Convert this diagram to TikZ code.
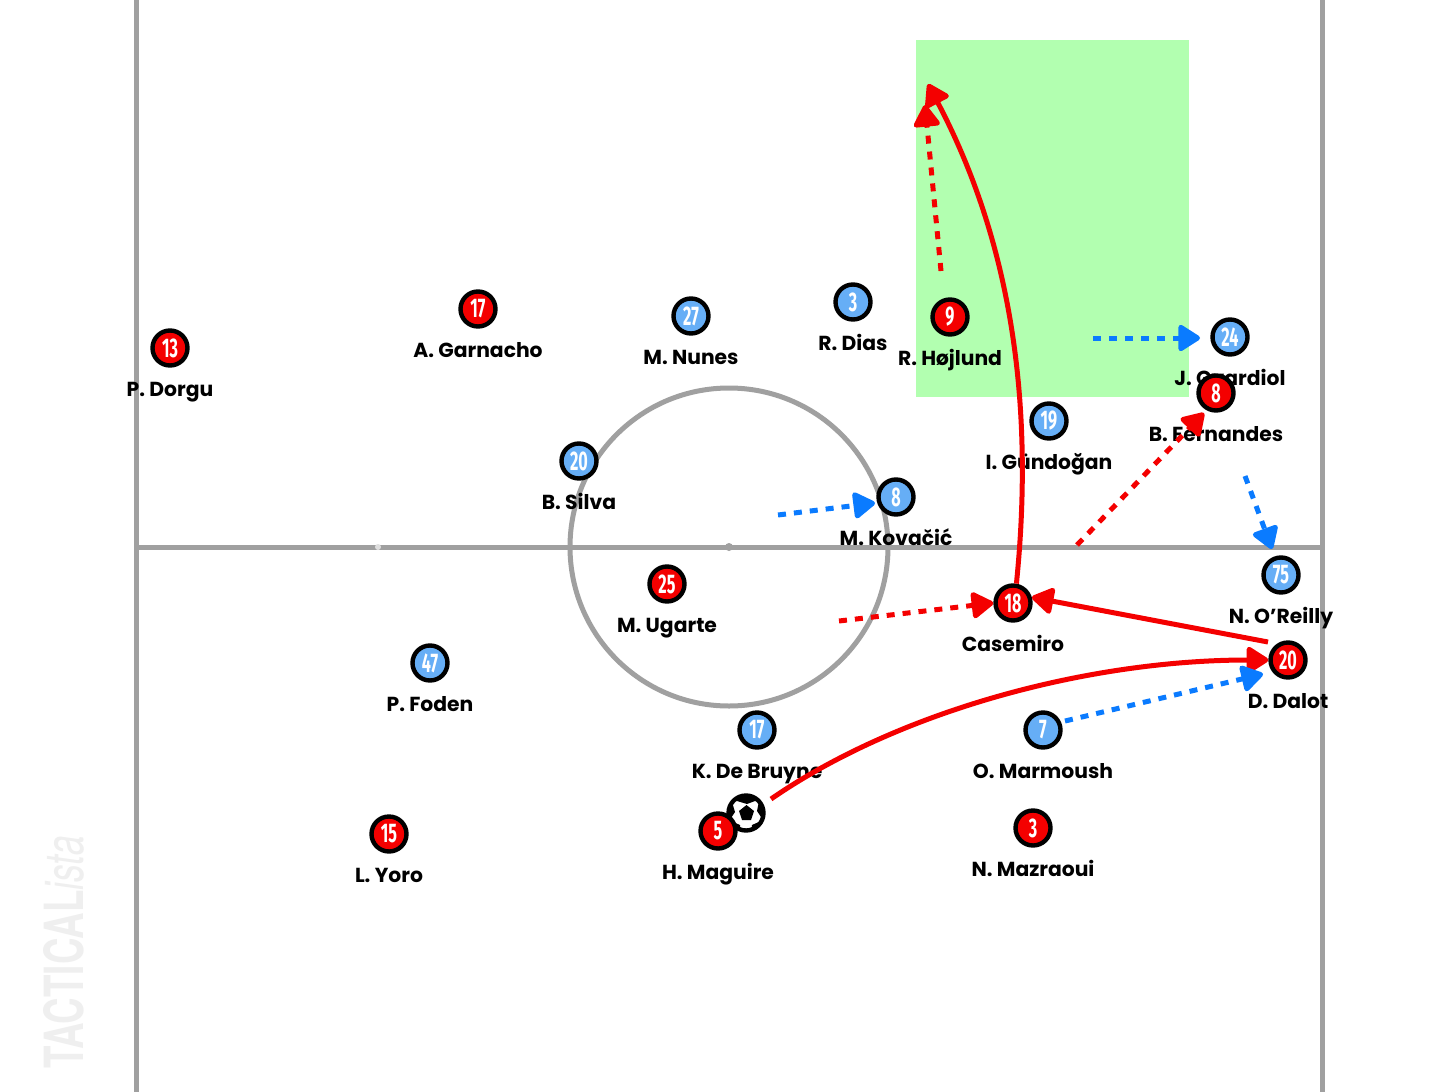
\documentclass[tikz,border=0pt]{standalone}
\usepackage{fontspec}
\setmainfont{Poppins}
\newfontfamily\numfont{Fira Sans}
\newfontfamily\wmfont{TeX Gyre Heros}
\usetikzlibrary{arrows.meta}
\definecolor{pitchgrey}{HTML}{A0A0A0}
\definecolor{redteam}{HTML}{F40000}
\definecolor{blueteam}{HTML}{66AEF6}
\definecolor{bluearrow}{HTML}{0A7BFF}
\definecolor{zonegreen}{HTML}{B2FFB0}
\definecolor{wmgrey}{HTML}{EFEFEF}
\newcommand{\numtxt}[1]{\scalebox{0.6}[1]{\numfont\bfseries\fontsize{13.5}{13.5}\selectfont #1}}
\tikzset{
  x=0.5pt,y=-0.5pt,
  player/.style={circle,draw=black,line width=2.2pt,minimum size=17.5pt,inner sep=0pt,text=white,font=\bfseries},
  redp/.style={player,fill=redteam},
  bluep/.style={player,fill=blueteam},
  plabel/.style={text=black,inner sep=0pt,font=\bfseries\fontsize{10.15}{12}\selectfont,anchor=center,text height=9pt,text depth=2pt},
  pitchline/.style={draw=pitchgrey,line width=2.5pt},
  runhead/.style={-{Triangle[length=12pt,width=14.5pt,round]}},
  redsolid/.style={runhead,draw=redteam,line width=2.5pt},
  reddash/.style={runhead,draw=redteam,line width=2.5pt,dash pattern=on 4pt off 4pt},
  bluedash/.style={runhead,draw=bluearrow,line width=2.5pt,dash pattern=on 4pt off 4pt},
}
\begin{document}
\begin{tikzpicture}
\useasboundingbox (0,0) rectangle (1456,1092);
\fill[white] (0,0) rectangle (1456,1092);
% zone
\fill[zonegreen] (916,40) rectangle (1189,397);
% pitch
\draw[pitchline] (136,0) -- (136,1092);
\draw[pitchline] (1322,0) -- (1322,1092);
\draw[pitchline] (136,547) -- (1322,547);
\draw[pitchline] (729,547) circle[radius=159];
\fill[pitchgrey] (729,547) circle[radius=4];
\fill[gray!25] (378,547) circle[radius=3];
% watermark
\node[rotate=90,anchor=west,inner sep=0pt,text=wmgrey] (wm) at (64,1069)
  {\wmfont\fontsize{27}{27}\selectfont\scalebox{0.68}[1]{\bfseries TACTICAL}\scalebox{0.66}[1]{\itshape ista}};
% labels
\node[plabel] (l1) at (170,389) {P. Dorgu};
\node[plabel] (l2) at (478,350) {A. Garnacho};
\node[plabel] (l3) at (667,625) {M. Ugarte};
\node[plabel] (l4) at (1013,644) {Casemiro};
\node[plabel] (l5) at (950,358) {R. Højlund};
\node[plabel] (l6) at (1216,434) {B. Fernandes};
\node[plabel] (l7) at (1288,701) {D. Dalot};
\node[plabel] (l8) at (718,872) {H. Maguire};
\node[plabel] (l9) at (1033,869) {N. Mazraoui};
\node[plabel] (l10) at (389,875) {L. Yoro};
\node[plabel] (l11) at (691,357) {M. Nunes};
\node[plabel] (l12) at (853,343) {R. Dias};
\node[plabel] (l13) at (1230,378) {J. Gvardiol};
\node[plabel] (l14) at (1049,462) {I. Gündoğan};
\node[plabel] (l15) at (579,502) {B. Silva};
\node[plabel] (l16) at (896,538) {M. Kovačić};
\node[plabel] (l17) at (1281,616) {N. O'Reilly};
\node[plabel] (l18) at (430,704) {P. Foden};
\node[plabel] (l19) at (757,771) {K. De Bruyne};
\node[plabel] (l20) at (1043,771) {O. Marmoush};
% blue team
\node[bluep] (b27) at (691,316) {\numtxt{27}};
\node[bluep] (b3) at (853,302) {\numtxt{3}};
\node[bluep] (b24) at (1230,337) {\numtxt{24}};
\node[bluep] (b19) at (1049,421) {\numtxt{19}};
\node[bluep] (b20) at (579,461) {\numtxt{20}};
\node[bluep] (b8) at (896,497) {\numtxt{8}};
\node[bluep] (b75) at (1281,575) {\numtxt{75}};
\node[bluep] (b47) at (430,663) {\numtxt{47}};
\node[bluep] (b17) at (757,730) {\numtxt{17}};
\node[bluep] (b7) at (1043,730) {\numtxt{7}};
% ball
\node[circle,draw=black,line width=2.2pt,fill=white,minimum size=17.5pt,inner sep=0pt] (ball) at (746,813) {};
\fill[black] (746.5,805) -- (754,811) -- (751,820) -- (742,820) -- (739,811) -- cycle;
\begin{scope}
\clip (746,813) circle[radius=18];
\fill[black] (735,790) -- (757,790) -- (755,801) -- (747,804) -- (737,801) -- cycle;
\fill[black] (770,802) -- (770,820) -- (763,820) -- (757,811) -- (759,801) -- cycle;
\fill[black] (722,802) -- (722,822) -- (729,821) -- (735,812) -- (732,802) -- cycle;
\fill[black] (764,838) -- (751,834) -- (752,825) -- (761,821) -- (770,825) -- cycle;
\fill[black] (728,838) -- (741,834) -- (740,825) -- (731,821) -- (722,825) -- cycle;
\end{scope}
% red team
\node[redp] (r13) at (170,348) {\numtxt{13}};
\node[redp] (r17) at (478,309) {\numtxt{17}};
\node[redp] (r25) at (667,584) {\numtxt{25}};
\node[redp] (r18) at (1013,603) {\numtxt{18}};
\node[redp] (r9) at (950,317) {\numtxt{9}};
\node[redp] (r8) at (1216,393) {\numtxt{8}};
\node[redp] (r20) at (1288,660) {\numtxt{20}};
\node[redp] (r5) at (718,831) {\numtxt{5}};
\node[redp] (r3) at (1033,828) {\numtxt{3}};
\node[redp] (r15) at (389,834) {\numtxt{15}};
% free ends
\coordinate (hA) at (928,84);
\coordinate (hB) at (925,105);
\coordinate (sB) at (941,271);
\coordinate (sC) at (839,621);
\coordinate (sD) at (1077,545);
\coordinate (hD) at (1204,413);
\coordinate (sE) at (778,515);
\coordinate (hE) at (875,503);
\coordinate (sF) at (1093,338);
\coordinate (hF) at (1200,338);
\coordinate (sG) at (1245,476);
\coordinate (hG) at (1272,549);
\coordinate (sH) at (1065,721);
\coordinate (hH) at (1263,674);
\coordinate (sI) at (1268,642);
\coordinate (sJ) at (771,799);
% arrows
\draw[redsolid] (r18.80) .. controls (1035,400) and (1010,240) .. (hA);
\draw[redsolid] (sI) -- (r18.17);
\draw[redsolid] (sJ) .. controls (900,710) and (1090,660) .. (r20.west);
\draw[reddash] (sB) -- (hB);
\draw[reddash] (sC) -- (r18.west);
\draw[reddash] (sD) -- (hD);
\draw[bluedash] (sE) -- (hE);
\draw[bluedash] (sF) -- (hF);
\draw[bluedash] (sG) -- (hG);
\draw[bluedash] (sH) -- (hH);
\end{tikzpicture}
\end{document}
